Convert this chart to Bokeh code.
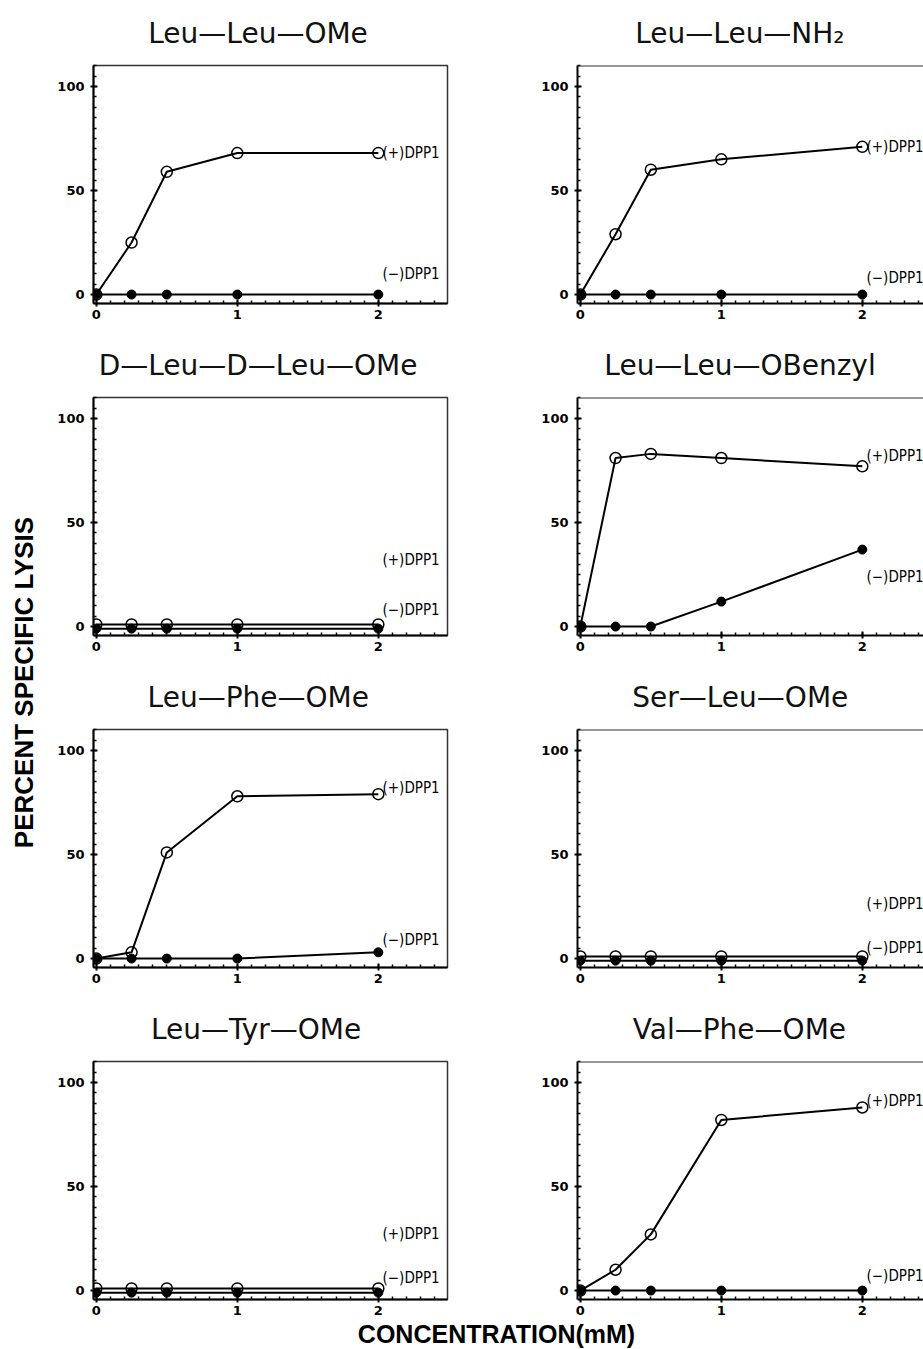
import math
from bokeh.plotting import figure
from bokeh.layouts import row, column
from bokeh.models import SingleIntervalTicker, Range1d, Span
from bokeh.embed import file_html
from bokeh.resources import INLINE
from bokeh.core.properties import value

# ---------------- data ----------------
conc = [0, 0.25, 0.5, 1, 2]  # mM

titles = ["Leu—Leu—OMe", "Leu—Leu—NH₂",
          "D—Leu—D—Leu—OMe", "Leu—Leu—OBenzyl",
          "Leu—Phe—OMe", "Ser—Leu—OMe",
          "Leu—Tyr—OMe", "Val—Phe—OMe"]

llome_plus = [0, 25, 59, 68, 68]
llome_minus = [0, 0, 0, 0, 0]
llnh2_plus = [0, 29, 60, 65, 71]
llnh2_minus = [0, 0, 0, 0, 0]
dldl_plus = [1, 1, 1, 1, 1]
dldl_minus = [-1, -1, -1, -1, -1]
llobz_plus = [0, 81, 83, 81, 77]
llobz_minus = [0, 0, 0, 12, 37]
lpome_plus = [0, 3, 51, 78, 79]
lpome_minus = [0, 0, 0, 0, 3]
slome_plus = [1, 1, 1, 1, 1]
slome_minus = [-1, -1, -1, -1, -1]
ltome_plus = [1, 1, 1, 1, 1]
ltome_minus = [-1, -1, -1, -1, -1]
vpome_plus = [0, 10, 27, 82, 88]
vpome_minus = [0, 0, 0, 0, 0]

plus_series = [llome_plus, llnh2_plus, dldl_plus, llobz_plus,
               lpome_plus, slome_plus, ltome_plus, vpome_plus]
minus_series = [llome_minus, llnh2_minus, dldl_minus, llobz_minus,
                lpome_minus, slome_minus, ltome_minus, vpome_minus]

# label positions (annotation placement, in data units)
plus_label_y = [68, 71, 32, 82, 82, 26, 27, 91]
minus_label_y = [10, 8, 8, 24, 9, 5, 6, 7]

# ---------------- layout constants ----------------
Y0, Y1 = -4.3, 110.1
FH = 238
BT = 65
YLAB_W = 43
LEFT_W, LEFT_BL, LEFT_BR = 449, 50, 45
RIGHT_W, RIGHT_BL = 431, 85
PX_PER_UNIT = 141.0
X0 = -0.02
ROW_BOTTOM = 29
LAST_BOTTOM = 20
XLAB_H = 29
TITLE_PX = 28

# approximate DejaVu Sans advance widths (units of 1/2048 em), for centring
_ADV = {"L": 1141, "e": 1260, "u": 1298, "—": 2048, "O": 1612, "M": 1767,
        "N": 1532, "H": 1540, "₂": 836, "D": 1577, "P": 1235, "h": 1298,
        "B": 1405, "n": 1298, "z": 1075, "y": 1212, "l": 569, "S": 1300,
        "r": 842, "T": 1251, "V": 1401, "a": 1255}


def text_w(s, px):
    return sum(_ADV.get(c, 1250) for c in s) / 2048.0 * px


def panel(i, right, last_row):
    frame_w = (RIGHT_W - RIGHT_BL) if right else (LEFT_W - LEFT_BL - LEFT_BR)
    x1 = X0 + frame_w / PX_PER_UNIT
    bottom = LAST_BOTTOM if last_row else ROW_BOTTOM
    p = figure(width=RIGHT_W if right else LEFT_W,
               height=BT + FH + bottom,
               x_range=Range1d(X0, x1), y_range=Range1d(Y0, Y1),
               output_backend="svg", toolbar_location=None,
               min_border_left=RIGHT_BL if right else LEFT_BL,
               min_border_right=0 if right else LEFT_BR,
               min_border_top=BT, min_border_bottom=bottom)
    p.title.text = titles[i]
    p.title.align = "left"
    centre = 163 if right else 165  # title centre, px from frame left
    p.title.offset = centre - text_w(titles[i], TITLE_PX) / 2
    p.title.vertical_align = "top"
    p.title.text_font = "DejaVu Sans"
    p.title.text_font_style = "normal"
    p.title.text_font_size = f"{TITLE_PX}px"
    p.title.text_color = "#111111"
    p.title.standoff = 28

    p.xaxis.ticker = SingleIntervalTicker(interval=1, num_minor_ticks=10)
    p.yaxis.ticker = SingleIntervalTicker(interval=50, num_minor_ticks=10)
    for ax in (p.xaxis, p.yaxis):
        ax.axis_line_width = 2
        ax.axis_line_color = "black"
        ax.major_tick_line_width = 2
        ax.major_tick_line_color = "black"
        ax.major_tick_in = 4
        ax.major_tick_out = 3
        ax.minor_tick_in = 3
        ax.minor_tick_out = 0
        ax.minor_tick_line_width = 1.5
        ax.minor_tick_line_color = "black"
        ax.major_label_text_font = "DejaVu Sans"
        ax.major_label_text_font_style = "bold"
        ax.major_label_text_font_size = "13px"
        ax.major_label_text_color = "black"
    p.xaxis.major_label_standoff = 3
    p.yaxis.major_label_standoff = 6
    p.grid.visible = False
    p.background_fill_color = "white"
    p.border_fill_color = "white"
    if right:
        p.outline_line_color = None
        p.add_layout(Span(location=Y1, dimension="width",
                          line_color="#333333", line_width=2))
    else:
        p.outline_line_color = "#333333"
        p.outline_line_width = 1.5

    mn = minus_series[i]
    pl = plus_series[i]
    p.line(conc, mn, line_color="black", line_width=2)
    p.scatter(conc, mn, marker="circle", size=9,
              fill_color="black", line_color="black")
    p.line(conc, pl, line_color="black", line_width=2)
    p.scatter(conc, pl, marker="circle", size=11, fill_alpha=0,
              line_color="black", line_width=1.5)

    lx = 2.03
    p.text(x=[lx, lx], y=[plus_label_y[i], minus_label_y[i]],
           text=["(+)DPP1", "(−)DPP1"],
           text_font=value("DejaVu Sans Condensed"),
           text_font_size="15px", text_align="left",
           text_baseline="middle", text_color="black")
    return p


rows = []
for r in range(4):
    last = (r == 3)
    rows.append(row(panel(2 * r, False, last), panel(2 * r + 1, True, last),
                    spacing=0))
grid = column(*rows, spacing=0)

GRID_H = 3 * (BT + FH + ROW_BOTTOM) + (BT + FH + LAST_BOTTOM)

ylab = figure(width=YLAB_W, height=GRID_H, x_range=Range1d(0, YLAB_W),
              y_range=Range1d(0, GRID_H), toolbar_location=None,
              output_backend="svg", min_border=0,
              x_axis_location=None, y_axis_location=None)
ylab.grid.visible = False
ylab.outline_line_color = None
ylab.text(x=[23], y=[GRID_H - 682], text=["PERCENT SPECIFIC LYSIS"],
          angle=math.pi / 2, text_align="center", text_baseline="middle",
          text_font=value("Liberation Sans"), text_font_style="bold",
          text_font_size="26px", text_color="black")

TOTAL_W = YLAB_W + LEFT_W + RIGHT_W
xlab = figure(width=TOTAL_W, height=XLAB_H, x_range=Range1d(0, TOTAL_W),
              y_range=Range1d(0, XLAB_H), toolbar_location=None,
              output_backend="svg", min_border=0,
              x_axis_location=None, y_axis_location=None)
xlab.grid.visible = False
xlab.outline_line_color = None
xlab.text(x=[496], y=[XLAB_H / 2], text=["CONCENTRATION(mM)"],
          text_align="center", text_baseline="middle",
          text_font=value("Liberation Sans"), text_font_style="bold",
          text_font_size="25px", text_color="black")

layout = column(row(ylab, grid, spacing=0), xlab, spacing=0)

open("out.html", "w").write(file_html(layout, INLINE))
